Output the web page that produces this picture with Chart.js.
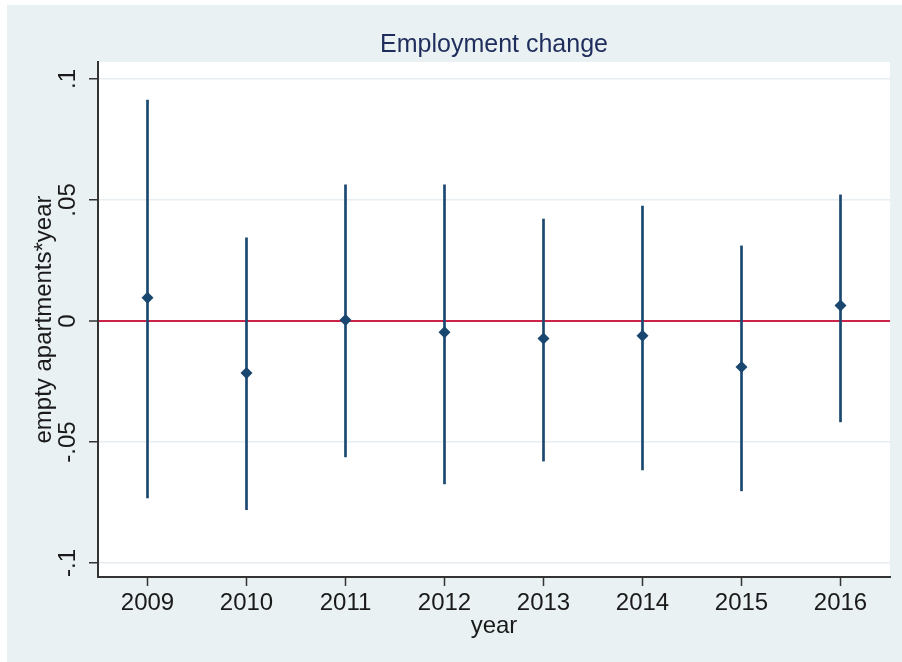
<!DOCTYPE html>
<html>
<head>
<meta charset="utf-8">
<script src="https://cdn.jsdelivr.net/npm/chart.js@4.4.1/dist/chart.umd.min.js"></script>
<style>
  html, body { margin: 0; padding: 0; background: #ffffff; }
  #wrap { width: 902px; height: 662px; }
</style>
</head>
<body>
<div id="wrap"><canvas id="coefPlot" width="902" height="662"></canvas></div>
<script>
  // coefficient per year with its confidence band
  const years = [2009, 2010, 2011, 2012, 2013, 2014, 2015, 2016];
  const estimates = [0.0096, -0.0215, 0.0004, -0.0047, -0.0072, -0.0061, -0.0190, 0.0064];
  const ciLower = [-0.0731, -0.0780, -0.0562, -0.0673, -0.0579, -0.0616, -0.0702, -0.0417];
  const ciUpper = [0.0913, 0.0343, 0.0562, 0.0562, 0.0421, 0.0475, 0.0310, 0.0521];
  const yTicks = [-0.1, -0.05, 0, 0.05, 0.1];
  const plotTitle = "Employment change";

  const navy = "#1a476f";
  const fontFamily = "'Liberation Sans', Arial, sans-serif";

  // stata-ish labels: ".05", "-.1", "0"
  function stataNum(v) {
    if (v === 0) return "0";
    return String(v).replace("0.", ".");
  }

  // outer panel, white plot region, and the title centred over the plot region
  const panelBackground = {
    id: "panelBackground",
    beforeDraw(chart) {
      const { ctx, chartArea } = chart;
      ctx.save();
      ctx.fillStyle = "#ffffff";
      ctx.fillRect(0, 0, chart.width, chart.height);
      ctx.fillStyle = "#e9f1f3";
      ctx.fillRect(7, 5, chart.width - 7, chart.height - 5);
      ctx.fillStyle = "#ffffff";
      ctx.fillRect(chartArea.left, chartArea.top,
        chartArea.right - chartArea.left, chartArea.bottom - chartArea.top);

      ctx.fillStyle = "#1f2d5c";
      ctx.font = "25px " + fontFamily;
      ctx.textAlign = "center";
      ctx.textBaseline = "middle";
      ctx.fillText(plotTitle, (chartArea.left + chartArea.right) / 2, 45);
      ctx.restore();
    }
  };

  const ctx = document.getElementById("coefPlot").getContext("2d");
  new Chart(ctx, {
    data: {
      datasets: [
        {
          type: "scatter",
          label: "estimate",
          data: years.map((y, i) => ({ x: y, y: estimates[i] })),
          pointStyle: "rectRot",
          pointRadius: 6,
          backgroundColor: navy,
          borderColor: navy,
          borderWidth: 0,
          order: 0
        },
        {
          type: "bar",
          label: "ci",
          data: years.map((y, i) => ({ x: y, y: [ciLower[i], ciUpper[i]] })),
          backgroundColor: navy,
          borderWidth: 0,
          barThickness: 2,
          grouped: false,
          order: 1
        }
      ]
    },
    options: {
      responsive: false,
      animation: false,
      layout: { padding: { top: 62, right: 12, left: 0, bottom: 0 } },
      plugins: {
        legend: { display: false },
        tooltip: { enabled: false },
        title: { display: false }
      },
      scales: {
        x: {
          type: "linear",
          min: 2008.5,
          max: 2016.5,
          offset: false,
          afterFit(scale) { scale.height = 85; },
          afterBuildTicks(scale) { scale.ticks = years.map(v => ({ value: v })); },
          ticks: {
            color: "#1a1a1a",
            font: { family: fontFamily, size: 24 },
            padding: 3,
            maxRotation: 0,
            callback: v => String(v)
          },
          grid: {
            offset: false,
            drawOnChartArea: false,
            tickColor: "#333333",
            tickLength: 9,
            tickWidth: 1.5
          },
          border: { color: "#333333", width: 2 },
          title: {
            display: true,
            text: "year",
            color: "#1a1a1a",
            font: { family: fontFamily, size: 24 },
            padding: { top: 0, bottom: 21 }
          }
        },
        y: {
          type: "linear",
          min: -0.1058,
          max: 0.107,
          afterFit(scale) { scale.width = 98; },
          afterBuildTicks(scale) { scale.ticks = yTicks.map(v => ({ value: v })); },
          ticks: {
            color: "#1a1a1a",
            font: { family: fontFamily, size: 24 },
            minRotation: 90,
            maxRotation: 90,
            crossAlign: "center",
            padding: 0,
            callback: v => stataNum(v)
          },
          grid: {
            color: c => (c.tick && c.tick.value === 0) ? "#cc2349" : "#e6eef1",
            lineWidth: c => (c.tick && c.tick.value === 0) ? 2 : 1.5,
            tickColor: "#333333",
            tickLength: 9,
            tickWidth: 1.5
          },
          border: { color: "#333333", width: 2 },
          title: {
            display: true,
            text: "empty apartments*year",
            color: "#1a1a1a",
            font: { family: fontFamily, size: 24 },
            padding: { top: 30, bottom: 0 }
          }
        }
      }
    },
    plugins: [panelBackground]
  });
</script>
</body>
</html>
